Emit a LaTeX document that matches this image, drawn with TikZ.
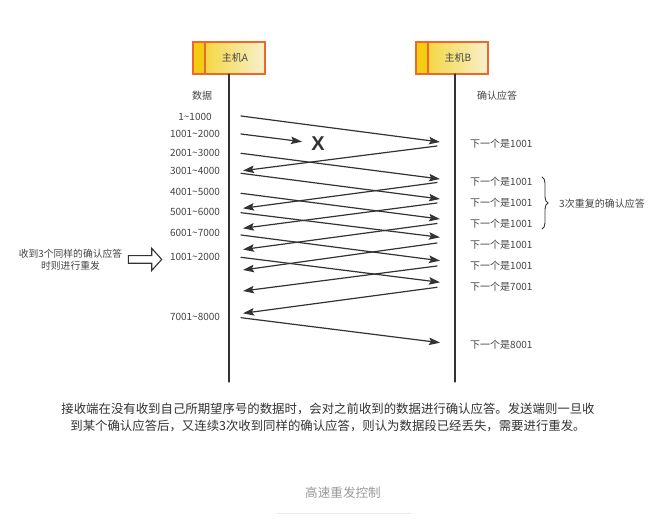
\documentclass[tikz,border=0pt]{standalone}
\usepackage{fontspec}
\setmainfont{Noto Sans CJK SC}
\newfontfamily\xmarkfont{Liberation Sans}
\usepackage{xcolor}
\usepackage{tikz}
\usetikzlibrary{calc,positioning,arrows.meta,decorations.pathreplacing}

\definecolor{hostedge}{HTML}{F0672C}
\definecolor{hostgold}{HTML}{F2CD12}
\definecolor{hostpale}{HTML}{F8F0CC}
\definecolor{ink}{HTML}{333333}
\definecolor{txt}{HTML}{444444}
\definecolor{capgray}{HTML}{9A9A9A}

\begin{document}
\begin{tikzpicture}[x=1pt, y=-1pt, line cap=round,
  host/.style={draw=hostedge, line width=1.3pt, outer sep=0pt, inner sep=0pt,
    minimum width=72pt, minimum height=32pt, left color=hostgold!90!white, right color=hostpale,
    text=txt, font=\fontsize{10}{12}\selectfont,
    path picture={
      \fill[hostgold] (path picture bounding box.north west) rectangle ([xshift=12pt]path picture bounding box.south west);
      \draw[hostedge, line width=1.3pt] ([xshift=12pt]path picture bounding box.north west) -- ([xshift=12pt]path picture bounding box.south west);
    }},
  lifeline/.style={draw=ink, line width=1.2pt},
  msg/.style={draw=ink, line width=1.2pt, -{Stealth[length=11pt,width=7.5pt,inset=2pt]}},
  seqlbl/.style={text=txt, font=\fontsize{10}{12}\selectfont, inner sep=1pt},
  acklbl/.style={text=txt, font=\fontsize{10}{12}\selectfont, inner sep=1pt, anchor=west},
  brace/.style={draw=ink, line width=0.9pt, decorate, decoration={brace, amplitude=6pt}}]

  \fill[white] (0,0) rectangle (664,527);
  \useasboundingbox (0,0) rectangle (664,527);

  \def\xsa{241}  % data leaves A
  \def\xtb{440}  % data reaches B
  \def\xsb{437}  % ack leaves B
  \def\xta{243}  % ack reaches A

  \newcommand{\datamsg}[3]{% #1=name, #2=y at A, #3=y at B
    \coordinate (#1s) at (\xsa,#2);
    \coordinate (#1t) at (\xtb,#3);
    \draw[msg] (#1s) -- (#1t);
  }
  \newcommand{\ackmsg}[3]{% #1=name, #2=y at B, #3=y at A
    \coordinate (#1s) at (\xsb,#2);
    \coordinate (#1t) at (\xta,#3);
    \draw[msg] (#1s) -- (#1t);
  }

  % hosts and lifelines
  \node[host] (hostA) at (229,58) {\hspace{12pt}主机A};
  \node[host] (hostB) at (452,58) {\hspace{12pt}主机B};
  \coordinate (endA) at (229,382);
  \coordinate (endB) at (455,382);
  \draw[lifeline] (hostA.south) -- (endA);
  \draw[lifeline] ($(hostB.south)+(3,0)$) -- (endB);

  \node[seqlbl] (dataHead) at (202,96) {数据};
  \node[acklbl] (ackHead) at (476,96) {确认应答};

  % segments sent by A
  \node[seqlbl] (seq1) at (195,117) {1\textasciitilde1000};
  \node[seqlbl] (seq2) at (195,134) {1001\textasciitilde2000};
  \node[seqlbl] (seq3) at (195,153) {2001\textasciitilde3000};
  \node[seqlbl] (seq4) at (195,171) {3001\textasciitilde4000};
  \node[seqlbl] (seq5) at (195,192) {4001\textasciitilde5000};
  \node[seqlbl] (seq6) at (195,212) {5001\textasciitilde6000};
  \node[seqlbl] (seq7) at (195,233) {6001\textasciitilde7000};
  \node[seqlbl] (seq8) at (195,257) {1001\textasciitilde2000};
  \node[seqlbl] (seq9) at (195,317) {7001\textasciitilde8000};

  \datamsg{d1}{116}{142}
  \coordinate (lostS) at (\xsa,134);
  \coordinate (lostT) at (302,141.7);
  \draw[msg] (lostS) -- (lostT);
  \node[text=ink, font=\xmarkfont\bfseries\fontsize{20}{20}\selectfont] (lost) at (318,144) {X};
  \datamsg{d3}{153.3}{179}
  \datamsg{d4}{173.3}{199}
  \datamsg{d5}{193.3}{219}
  \datamsg{d6}{212.7}{237.3}
  \datamsg{d7}{235}{260.7}
  \datamsg{d8}{257.3}{282.3}
  \datamsg{d9}{317.7}{342.7}

  % acknowledgements from B
  \ackmsg{a1}{146}{170.7}
  \ackmsg{a2}{182.5}{208.3}
  \ackmsg{a3}{203}{228.3}
  \ackmsg{a4}{223.5}{249.5}
  \ackmsg{a5}{243}{270}
  \ackmsg{a6}{266}{291}
  \ackmsg{a7}{287.3}{313.3}

  \node[acklbl] (ack1) at (469,143.5) {下一个是1001};
  \node[acklbl] (ack2) at (469,182) {下一个是1001};
  \node[acklbl] (ack3) at (469,203) {下一个是1001};
  \node[acklbl] (ack4) at (469,224) {下一个是1001};
  \node[acklbl] (ack5) at (469,245) {下一个是1001};
  \node[acklbl] (ack6) at (469,266) {下一个是1001};
  \node[acklbl] (ack7) at (469,287) {下一个是7001};
  \node[acklbl] (ack8) at (469,345) {下一个是8001};

  \coordinate (braceTop) at (542,177);
  \coordinate (braceBot) at (542,229);
  \draw[brace] (braceTop) -- (braceBot);
  \node[acklbl] (dupNote) at (558,204) {3次重复的确认应答};

  % resend note on the left
  \node[text=txt, align=center, font=\fontsize{9.8}{12.4}\selectfont] (resendNote) at (70.5,259.5)
    {收到3个同样的确认应答\\时则进行重发};
  \draw[draw=ink, line width=1.1pt, line join=miter]
    (128.3,255.6) -- (151.7,255.6) -- (151.7,248.3) -- (161.7,259.4)
    -- (151.7,270.5) -- (151.7,263.2) -- (128.3,263.2) -- cycle;

  % text below
  \node[text=ink, align=center, font=\fontsize{12.4}{17}\selectfont] (summary) at (328,417.5)
    {接收端在没有收到自己所期望序号的数据时，会对之前收到的数据进行确认应答。发送端则一旦收\\到某个确认应答后，又连续3次收到同样的确认应答，则认为数据段已经丢失，需要进行重发。};
  \node[text=capgray, font=\fontsize{12.6}{15}\selectfont] (caption) at (343,492.5) {高速重发控制};
  \draw[black!8, line width=1pt] (277,513.3) -- (410.7,513.3);
\end{tikzpicture}
\end{document}
